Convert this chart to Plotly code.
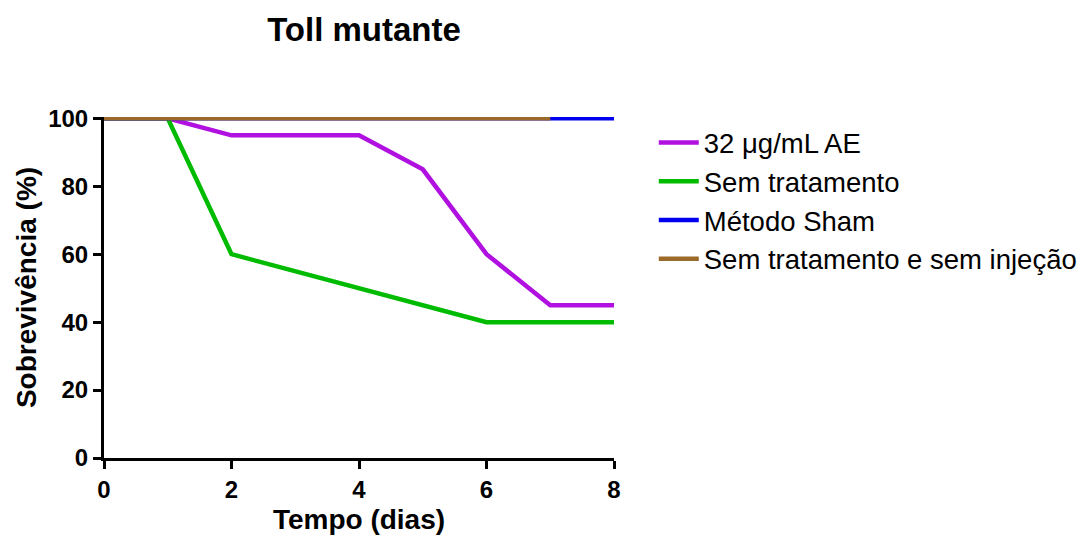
import plotly.graph_objects as go

days = [0, 1, 2, 3, 4, 5, 6, 7, 8]
ae32 = [100, 100, 95, 95, 95, 85, 60, 45, 45]
sem_trat = [100, 100, 60, 55, 50, 45, 40, 40, 40]
sham_days = [0, 1, 2, 3, 4, 5, 6, 7, 8]
sham = [100, 100, 100, 100, 100, 100, 100, 100, 100]
sem_inj_days = [0, 1, 2, 3, 4, 5, 6, 7]
sem_inj = [100, 100, 100, 100, 100, 100, 100, 100]

x_ticks = [0, 2, 4, 6, 8]
y_ticks = [0, 20, 40, 60, 80, 100]

names = ["32 μg/mL AE", "Sem tratamento", "Método Sham", "Sem tratamento e sem injeção"]
colors = ["#B010E0", "#00BB00", "#0000F0", "#9B6A2A"]

fig = go.Figure()
series = [(days, ae32), (days, sem_trat), (sham_days, sham), (sem_inj_days, sem_inj)]
for (xs, ys), n, c in zip(series, names, colors):
    fig.add_trace(go.Scatter(x=xs, y=ys, mode="lines", name=n,
                             line=dict(color=c, width=4.5)))

font_family = "Liberation Sans, Arial, sans-serif"
fig.update_layout(
    width=1080, height=540,
    margin=dict(l=104, r=466, t=117, b=82, autoexpand=False),
    paper_bgcolor="white", plot_bgcolor="white",
    font=dict(family=font_family, color="black"),
    title=dict(text="<b>Toll mutante</b>", font=dict(size=33, family=font_family, color="black"),
               x=364/1080, xanchor="center", y=1-29/540, yanchor="middle"),
    showlegend=True,
    legend=dict(x=1.078, xanchor="left", y=0.997, yanchor="top",
                font=dict(size=27.5, family=font_family, color="black"),
                bgcolor="rgba(0,0,0,0)", tracegroupgap=0, itemwidth=40),
)
fig.update_xaxes(range=[0, 8], tickvals=x_ticks, ticktext=[f"<b>{v}</b>" for v in x_ticks],
                 showgrid=False, zeroline=False, automargin=False,
                 showline=True, linecolor="black", linewidth=3,
                 ticks="outside", ticklen=8, tickwidth=3, tickcolor="black",
                 tickfont=dict(size=24, family=font_family, color="black"),
                 title=dict(text="<b>Tempo (dias)</b>", font=dict(size=28, family=font_family), standoff=8))
fig.update_yaxes(range=[0, 100.4], tickvals=y_ticks, ticktext=[f"<b>{v}</b>" for v in y_ticks],
                 showgrid=False, zeroline=False, automargin=False,
                 showline=True, linecolor="black", linewidth=3,
                 ticks="outside", ticklen=8, tickwidth=3, tickcolor="black",
                 tickfont=dict(size=24, family=font_family, color="black"),
                 title=dict(text="<b>Sobrevivência (%)</b>", font=dict(size=28, family=font_family), standoff=4))

fig.write_html("out.html")
